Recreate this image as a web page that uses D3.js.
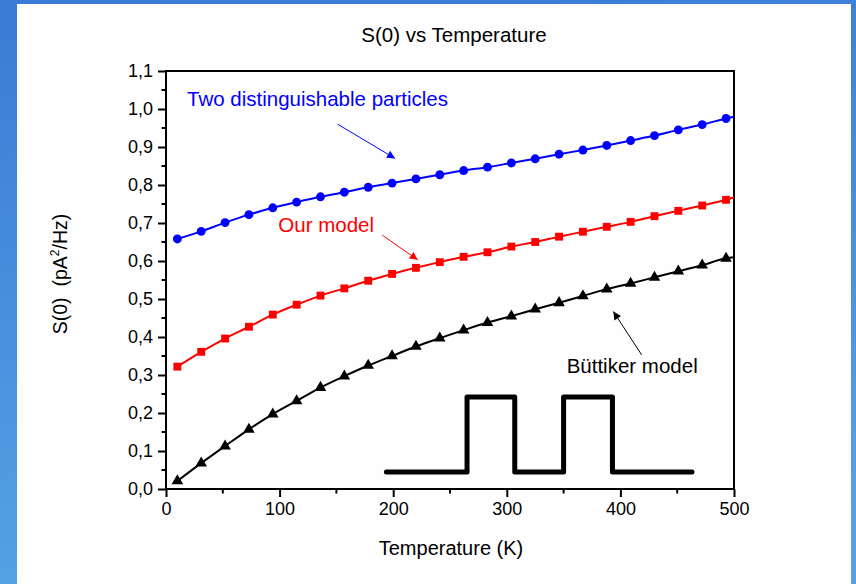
<!DOCTYPE html>
<html>
<head>
<meta charset="utf-8">
<script src="https://cdn.jsdelivr.net/npm/d3@7"></script>
<style>
html,body{margin:0;padding:0;background:#fff;}
svg{display:block;}
text{font-family:"Liberation Sans", Arial, sans-serif;}
</style>
</head>
<body>
<svg id="chart" width="856" height="584"></svg>
<script>
// ---- data ----
const temperatures = [10,31,52,73,94,115,136,157,178,199,220,241,262,283,304,325,346,367,388,409,430,451,472,493];
const twoParticles = [0.658,0.678,0.701,0.722,0.740,0.755,0.769,0.781,0.794,0.805,0.816,0.827,0.838,0.847,0.858,0.869,0.881,0.892,0.904,0.917,0.930,0.945,0.959,0.975];
const ourModel     = [0.322,0.361,0.396,0.427,0.459,0.485,0.509,0.528,0.548,0.566,0.582,0.597,0.611,0.623,0.638,0.650,0.664,0.677,0.690,0.703,0.718,0.732,0.746,0.761];
const buttiker     = [0.021,0.068,0.113,0.157,0.197,0.232,0.267,0.297,0.325,0.350,0.375,0.397,0.418,0.438,0.455,0.473,0.490,0.508,0.526,0.541,0.557,0.573,0.589,0.607];
const endTemperature = 500;
const endValues = [0.980, 0.767, 0.610]; // line continuation to 500 K
const xTicks = [0,100,200,300,400,500];
const yTicks = [0,0.1,0.2,0.3,0.4,0.5,0.6,0.7,0.8,0.9,1.0,1.1];
const seriesNames = ["Two distinguishable particles","Our model","Büttiker model"];
const seriesColors = ["#0000ff","#ff0000","#000000"];
// annotation anchors (data coordinates)
const labelPos = [[18.5,1.008],[98.9,0.677],[352.7,0.304]];
const arrowFrom = [[151.1,0.960],[190.4,0.668],[418.7,0.353]];
const arrowTo   = [[201.6,0.870],[221.6,0.603],[393.8,0.467]];
// inset pulse schematic (data coordinates)
const pulseT = [194,265,265,307,307,350,350,393,393,463];
const pulseS = [0.045,0.045,0.242,0.242,0.045,0.045,0.242,0.242,0.045,0.045];

// ---- layout ----
const W = 856, H = 584;
const svg = d3.select("#chart");
const defs = svg.append("defs");
const grad = defs.append("linearGradient").attr("id","bg").attr("x1","0").attr("y1","0").attr("x2","0.15").attr("y2","1");
grad.append("stop").attr("offset","0").attr("stop-color","#3a7bd5");
grad.append("stop").attr("offset","1").attr("stop-color","#56a2e4");
svg.append("rect").attr("width",W).attr("height",H).attr("fill","url(#bg)");
svg.append("rect").attr("x",17).attr("y",4).attr("width",834).attr("height",H-4).attr("fill","#fefefe");

const x = d3.scaleLinear().domain([0,500]).range([166,734]);
const y = d3.scaleLinear().domain([0,1.1]).range([489,71]);

// arrow markers
seriesColors.forEach((c,i)=>{
  defs.append("marker").attr("id","arr"+i)
    .attr("viewBox","0 0 10 10").attr("refX",10).attr("refY",5)
    .attr("markerWidth",12).attr("markerHeight",8).attr("markerUnits","userSpaceOnUse")
    .attr("orient","auto")
    .append("path").attr("d","M0,0L10,5L0,10Z").attr("fill",c);
});

// title
svg.append("text").attr("x",454).attr("y",42).attr("text-anchor","middle")
  .attr("font-size",20.5).attr("fill","#000").text("S(0) vs Temperature");

// axes
const fmt = d => d3.format(".1f")(d).replace(".",",");
const xAxis = d3.axisBottom(x).tickValues(xTicks).tickSize(8).tickPadding(5).tickFormat(d3.format("d"));
const gx = svg.append("g").attr("transform",`translate(0,${y(0)})`).call(xAxis);
const yAxis = d3.axisLeft(y).tickValues(yTicks).tickSize(8).tickPadding(5).tickFormat(fmt);
const gy = svg.append("g").attr("transform",`translate(${x(0)},0)`).call(yAxis);
[gx,gy].forEach(g=>{
  g.select(".domain").remove();
  g.selectAll(".tick line").attr("stroke","#000").attr("stroke-width",2);
  g.selectAll(".tick text").attr("fill","#000").attr("font-size",18).attr("font-family","Liberation Sans, Arial, sans-serif");
});
// minor ticks
const xMinor = d3.range(50,500,100);
svg.append("g").selectAll("line").data(xMinor).join("line")
  .attr("x1",d=>x(d)).attr("x2",d=>x(d)).attr("y1",y(0)).attr("y2",y(0)+4.5)
  .attr("stroke","#000").attr("stroke-width",2);
const yMinor = d3.range(0.05,1.1,0.1);
svg.append("g").selectAll("line").data(yMinor).join("line")
  .attr("x1",x(0)).attr("x2",x(0)-4.5).attr("y1",d=>y(d)).attr("y2",d=>y(d))
  .attr("stroke","#000").attr("stroke-width",2);

// frame
svg.append("rect").attr("x",x(0)).attr("y",y(1.1)).attr("width",x(500)-x(0)).attr("height",y(0)-y(1.1))
  .attr("fill","none").attr("stroke","#000").attr("stroke-width",2);

// axis labels
svg.append("text").attr("x",451).attr("y",555).attr("text-anchor","middle").attr("font-size",20)
  .attr("fill","#000").text("Temperature (K)");
const yl = svg.append("text").attr("transform","translate(67,274) rotate(-90)").attr("text-anchor","middle")
  .attr("font-size",19.5).attr("fill","#000").style("white-space","pre");
yl.append("tspan").text("S(0)\u00a0\u00a0(pA");
yl.append("tspan").attr("font-size",12).attr("dy",-8).text("2");
yl.append("tspan").attr("dy",8).text("/Hz)");

// series
const allSeries = [twoParticles, ourModel, buttiker];
const line = d3.line().x(d=>x(d[0])).y(d=>y(d[1])).curve(d3.curveMonotoneX);
const plot = svg.append("g");
allSeries.forEach((vals,i)=>{
  const pts = temperatures.map((t,j)=>[t,vals[j]]);
  const full = pts.concat([[endTemperature,endValues[i]]]);
  plot.append("path").attr("d",line(full)).attr("fill","none")
    .attr("stroke",seriesColors[i]).attr("stroke-width",2);
  const sym = [d3.symbolCircle, d3.symbolSquare, d3.symbolTriangle][i];
  const size = [62, 62, 58][i];
  plot.append("g").selectAll("path").data(pts).join("path")
    .attr("transform",d=>`translate(${x(d[0])},${y(d[1])})`)
    .attr("d",d3.symbol().type(sym).size(size))
    .attr("fill",seriesColors[i]);
});

// annotations
seriesNames.forEach((name,i)=>{
  svg.append("text").attr("x",x(labelPos[i][0])).attr("y",y(labelPos[i][1]))
    .attr("font-size",20.5).attr("fill",seriesColors[i]).text(name);
  svg.append("line")
    .attr("x1",x(arrowFrom[i][0])).attr("y1",y(arrowFrom[i][1]))
    .attr("x2",x(arrowTo[i][0])).attr("y2",y(arrowTo[i][1]))
    .attr("stroke",seriesColors[i]).attr("stroke-width",1)
    .attr("marker-end",`url(#arr${i})`);
});

// pulse inset
const pulseLine = d3.line().x(d=>x(d[0])).y(d=>y(d[1]));
svg.append("path").attr("d",pulseLine(pulseT.map((t,j)=>[t,pulseS[j]])))
  .attr("fill","none").attr("stroke","#000").attr("stroke-width",5)
  .attr("stroke-linejoin","round").attr("stroke-linecap","round");
</script>
</body>
</html>
